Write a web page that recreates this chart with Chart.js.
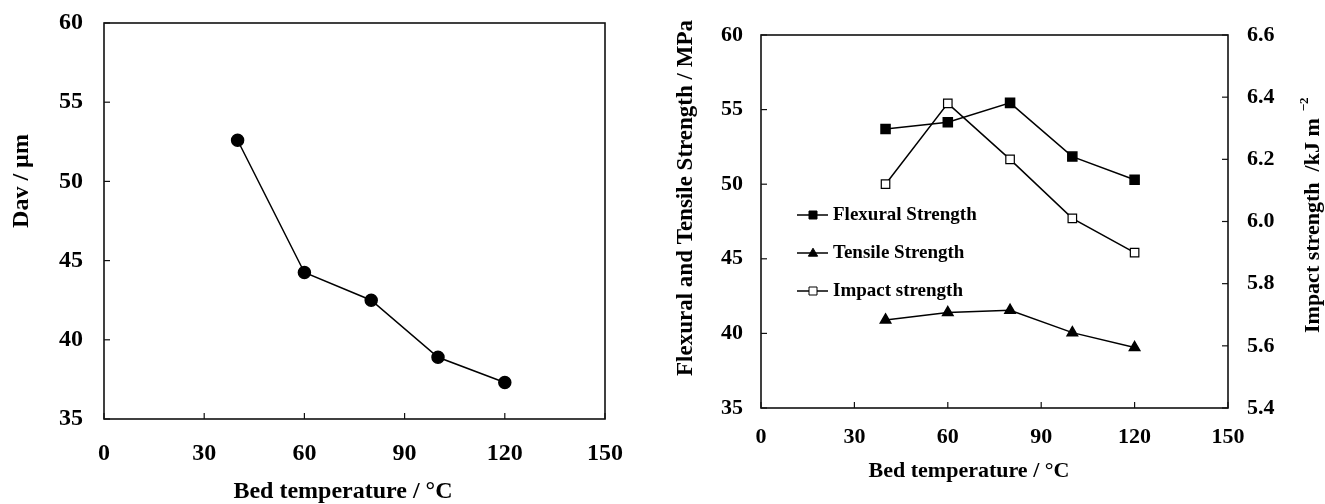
<!DOCTYPE html>
<html>
<head>
<meta charset="utf-8">
<script src="https://cdn.jsdelivr.net/npm/chart.js@4.4.1/dist/chart.umd.min.js"></script>
<style>
  html, body { margin: 0; padding: 0; background: #fff; }
  #wrap { position: relative; width: 1325px; height: 504px; }
  canvas { position: absolute; top: 0; }
</style>
</head>
<body>
<div id="wrap">
  <canvas id="left" width="640" height="504" style="left:0"></canvas>
  <canvas id="right" width="685" height="504" style="left:640px"></canvas>
</div>
<script>
// data
const temps = [40, 60, 80, 100, 120];
const davValues = [52.6, 44.25, 42.5, 38.9, 37.3];
const flexural = [53.7, 54.15, 55.45, 51.85, 50.3];
const tensile = [40.9, 41.4, 41.55, 40.05, 39.05];
const impact = [6.12, 6.38, 6.2, 6.01, 5.9];

const tempTicks = [0, 30, 60, 90, 120, 150];
const davTicks = [35, 40, 45, 50, 55, 60];
const strengthTicks = [35, 40, 45, 50, 55, 60];
const impactTicks = [5.4, 5.6, 5.8, 6.0, 6.2, 6.4, 6.6];

const serif = "'Liberation Serif', 'Times New Roman', serif";
Chart.defaults.font.family = serif;
Chart.defaults.font.weight = 'bold';
Chart.defaults.color = '#000';

const pts = (xs, ys) => xs.map((x, i) => ({ x: x, y: ys[i] }));
const setTicks = (vals) => (s) => { s.ticks = vals.map(v => ({ value: v })); };
// fixed axis sizes so the plot box lands where it is in the figure
const fitX = (h) => (s) => { s.height = h; s.paddingLeft = 0; s.paddingRight = 0; };
const fitY = (w) => (s) => { s.width = w; s.paddingTop = 0; s.paddingBottom = 0; };

function drawMarker(ctx, style, x, y, size, filled) {
  ctx.beginPath();
  if (style === 'triangle') {
    ctx.moveTo(x, y - size * 0.6);
    ctx.lineTo(x + size * 0.58, y + size * 0.4);
    ctx.lineTo(x - size * 0.58, y + size * 0.4);
    ctx.closePath();
  } else {
    ctx.rect(x - size / 2, y - size / 2, size, size);
  }
  ctx.fillStyle = filled ? '#000' : '#fff';
  ctx.fill();
  ctx.stroke();
}

// box round the plot, inward tick marks, axis titles and the inset legend
const frame = {
  id: 'frame',
  afterDraw(chart, args, o) {
    const ctx = chart.ctx, a = chart.chartArea;
    ctx.save();
    ctx.strokeStyle = '#111';
    ctx.lineWidth = 1.6;
    ctx.strokeRect(a.left, a.top, a.right - a.left, a.bottom - a.top);
    ctx.lineWidth = 1.2;
    Object.values(chart.scales).forEach(s => {
      s.ticks.forEach(t => {
        const p = s.getPixelForValue(t.value);
        ctx.beginPath();
        if (s.axis === 'x') { ctx.moveTo(p, a.bottom); ctx.lineTo(p, a.bottom - 6); }
        else if (s.position === 'left') { ctx.moveTo(a.left, p); ctx.lineTo(a.left + 6, p); }
        else { ctx.moveTo(a.right, p); ctx.lineTo(a.right - 6, p); }
        ctx.stroke();
      });
    });

    (o.titles || []).forEach(t => {
      ctx.save();
      ctx.translate(t.x, t.y);
      if (t.rotate) ctx.rotate(-Math.PI / 2);
      ctx.font = 'bold ' + t.size + 'px ' + serif;
      ctx.fillStyle = '#000';
      ctx.textAlign = t.align || 'center';
      ctx.textBaseline = 'middle';
      ctx.fillText(t.text, 0, 0);
      if (t.sup) {
        const w = ctx.measureText(t.text).width;
        ctx.font = 'bold 13px ' + serif;
        ctx.textAlign = 'left';
        ctx.fillText(t.sup, w + 7, -8);
      }
      ctx.restore();
    });

    if (o.legend) {
      const L = o.legend;
      ctx.font = 'bold ' + L.size + 'px ' + serif;
      ctx.textAlign = 'left';
      ctx.textBaseline = 'middle';
      chart.data.datasets.forEach((ds, i) => {
        const y = L.y + i * L.gap;
        ctx.strokeStyle = '#000';
        ctx.lineWidth = 1.5;
        ctx.beginPath();
        ctx.moveTo(L.x, y);
        ctx.lineTo(L.x + 31, y);
        ctx.stroke();
        ctx.lineWidth = 1;
        drawMarker(ctx, ds.pointStyle, L.x + 16, y, 8, ds.pointBackgroundColor !== '#fff');
        ctx.fillStyle = '#000';
        ctx.fillText(ds.label, L.x + 36, y);
      });
    }
    ctx.restore();
  }
};

const tickFont = (size) => ({ family: serif, size: size, weight: 'bold' });

new Chart(document.getElementById('left'), {
  type: 'scatter',
  data: {
    datasets: [{
      label: 'Dav',
      data: pts(temps, davValues),
      showLine: true,
      borderColor: '#000',
      borderWidth: 1.5,
      pointStyle: 'circle',
      pointRadius: 6,
      pointBackgroundColor: '#000',
      pointBorderColor: '#000'
    }]
  },
  options: {
    responsive: false,
    animation: false,
    layout: { padding: { top: 23, right: 35, left: 0, bottom: 0 } },
    plugins: {
      legend: { display: false },
      tooltip: { enabled: false },
      frame: {
        titles: [
          { text: 'Dav / \u00b5m', x: 22, y: 181, size: 24, rotate: true },
          { text: 'Bed temperature / \u00b0C', x: 343, y: 492, size: 24 }
        ]
      }
    },
    scales: {
      x: {
        type: 'linear', min: 0, max: 150,
        afterBuildTicks: setTicks(tempTicks),
        afterFit: fitX(85),
        grid: { display: false, drawTicks: false },
        border: { display: false },
        ticks: { font: tickFont(24), padding: 20 }
      },
      y: {
        type: 'linear', min: 35, max: 60,
        afterBuildTicks: setTicks(davTicks),
        afterFit: fitY(104),
        grid: { display: false, drawTicks: false },
        border: { display: false },
        ticks: { font: tickFont(24), padding: 21 }
      }
    }
  },
  plugins: [frame]
});

new Chart(document.getElementById('right'), {
  type: 'scatter',
  data: {
    datasets: [
      {
        label: 'Flexural Strength',
        data: pts(temps, flexural),
        yAxisID: 'y',
        showLine: true,
        borderColor: '#000',
        borderWidth: 1.5,
        pointStyle: 'rect',
        pointRadius: 6.4,
        pointBackgroundColor: '#000',
        pointBorderColor: '#000'
      },
      {
        label: 'Tensile Strength',
        data: pts(temps, tensile),
        yAxisID: 'y',
        showLine: true,
        borderColor: '#000',
        borderWidth: 1.5,
        pointStyle: 'triangle',
        pointRadius: 6,
        pointBackgroundColor: '#000',
        pointBorderColor: '#000'
      },
      {
        label: 'Impact strength',
        data: pts(temps, impact),
        yAxisID: 'y1',
        showLine: true,
        borderColor: '#000',
        borderWidth: 1.5,
        pointStyle: 'rect',
        pointRadius: 6,
        pointBorderWidth: 1.2,
        pointBackgroundColor: '#fff',
        pointBorderColor: '#000'
      }
    ]
  },
  options: {
    responsive: false,
    animation: false,
    layout: { padding: { top: 35, right: 0, left: 0, bottom: 0 } },
    plugins: {
      legend: { display: false },
      tooltip: { enabled: false },
      frame: {
        titles: [
          { text: 'Flexural and Tensile Strength / MPa', x: 46, y: 198, size: 23, rotate: true },
          { text: 'Bed temperature / \u00b0C', x: 329, y: 471, size: 22 },
          { text: 'Impact strength  /kJ m', x: 673, y: 333, size: 22, rotate: true, align: 'left', sup: '\u22122' }
        ],
        legend: { x: 157, y: 215, gap: 38, size: 19 }
      }
    },
    scales: {
      x: {
        type: 'linear', min: 0, max: 150,
        afterBuildTicks: setTicks(tempTicks),
        afterFit: fitX(96),
        grid: { display: false, drawTicks: false },
        border: { display: false },
        ticks: { font: tickFont(22), padding: 16 }
      },
      y: {
        type: 'linear', position: 'left', min: 35, max: 60,
        afterBuildTicks: setTicks(strengthTicks),
        afterFit: fitY(121),
        grid: { display: false, drawTicks: false },
        border: { display: false },
        ticks: { font: tickFont(22), padding: 18 }
      },
      y1: {
        type: 'linear', position: 'right', min: 5.4, max: 6.6,
        afterBuildTicks: setTicks(impactTicks),
        afterFit: fitY(97),
        grid: { display: false, drawTicks: false },
        border: { display: false },
        ticks: { font: tickFont(22), padding: 19, callback: v => v.toFixed(1) }
      }
    }
  },
  plugins: [frame]
});
</script>
</body>
</html>
